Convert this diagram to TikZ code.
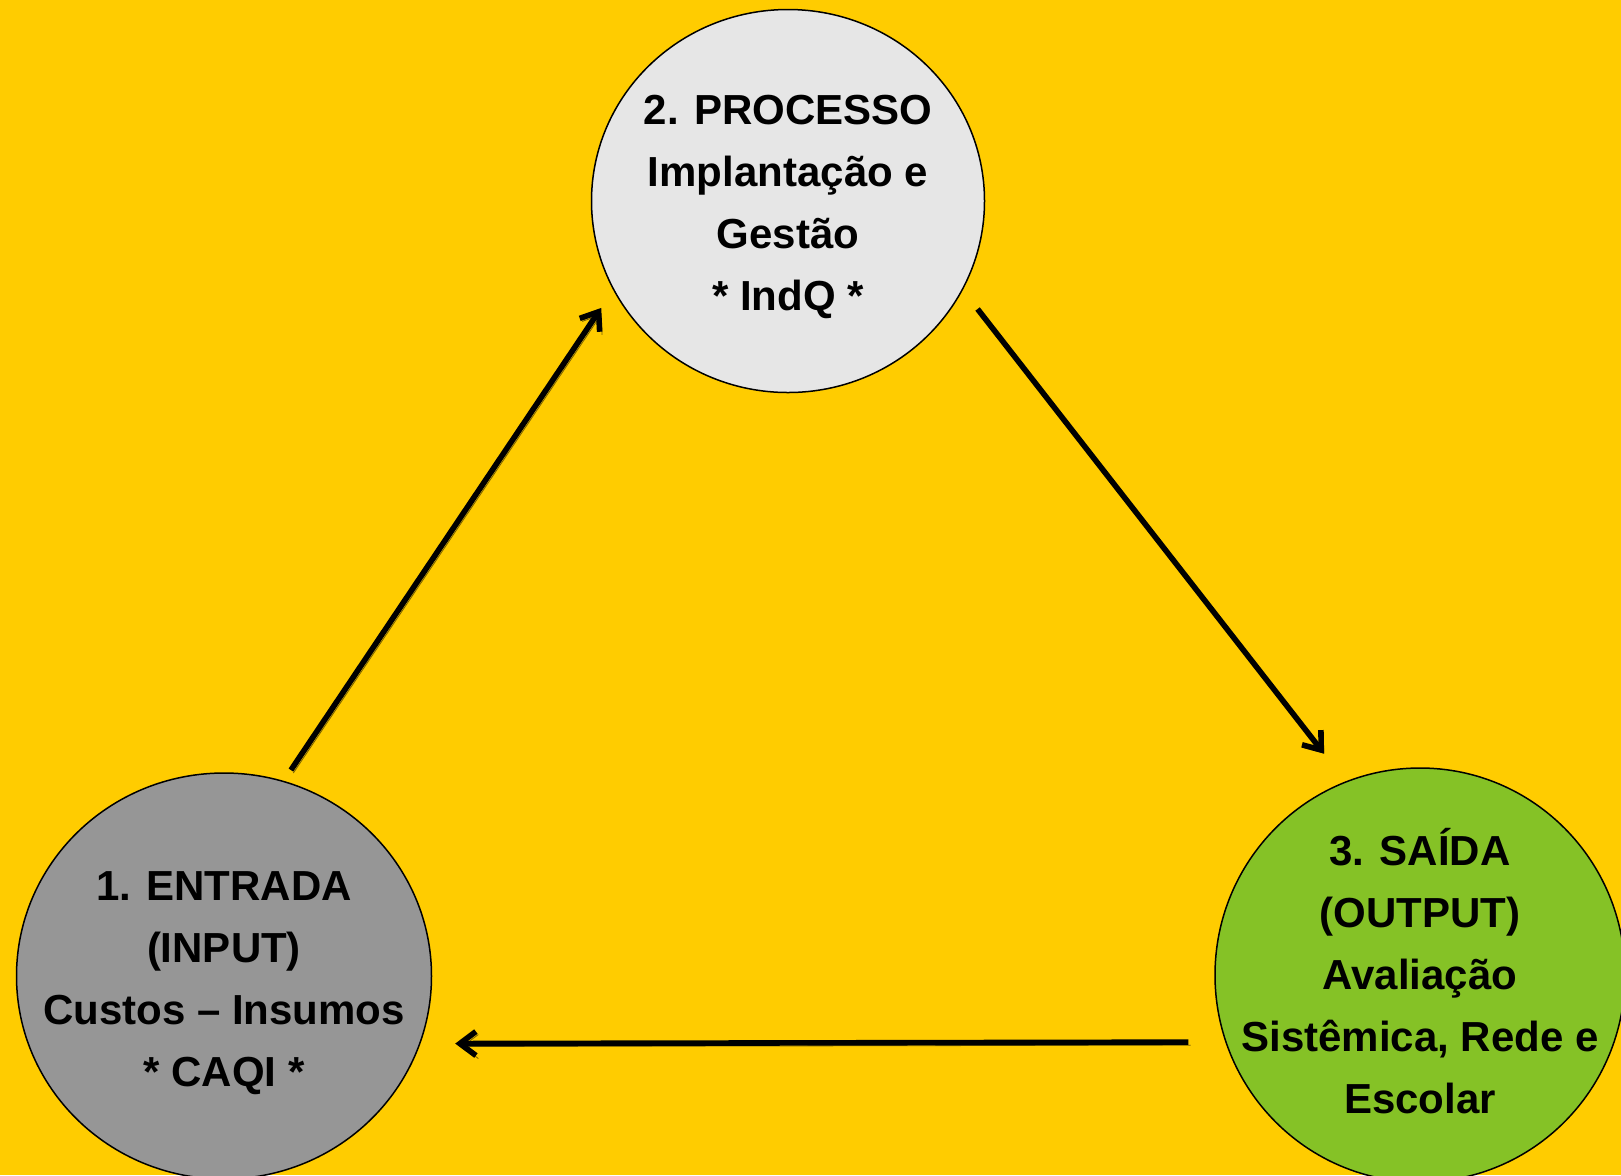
\documentclass[tikz,border=0pt]{standalone}
\usepackage{fontspec}
\setmainfont{Liberation Sans}
\usetikzlibrary{shapes.geometric}
\usetikzlibrary{arrows.meta}
\definecolor{bgyellow}{RGB}{255,204,0}
\definecolor{procgray}{RGB}{230,230,230}
\definecolor{entgray}{RGB}{150,150,150}
\definecolor{saigreen}{RGB}{133,194,38}
\definecolor{shadowcol}{RGB}{120,96,0}

\begin{document}
\begin{tikzpicture}[x=0.5pt,y=-0.5pt,
    stage/.style={ellipse,draw=black,line width=0.75pt,inner sep=0pt},
    stagetext/.style={align=center,font=\fontsize{21}{31}\selectfont\bfseries},
    flow/.style={line width=2.8pt,-{Straight Barb[length=8pt,width=12pt]},
      preaction={draw=shadowcol,transform canvas={shift={(1.2pt,-1.5pt)}}}}]
      \useasboundingbox (0,0) rectangle (1621,1175);
      \fill[bgyellow] (0,0) rectangle (1621,1175); %background

      %STAGES
      \node[stage,fill=procgray,minimum width=196.5pt,minimum height=191.5pt,
        label={[stagetext,yshift=-3pt]center:{2. PROCESSO\\Implantação e\\Gestão\\* IndQ *}}] (processo) at (788,201) {};
      \node[stage,fill=entgray,minimum width=207.5pt,minimum height=203pt,
        label={[stagetext,yshift=-3.5pt]center:{1. ENTRADA\\(INPUT)\\Custos – Insumos\\* CAQI *}}] (entrada) at (224,976) {};
      \node[stage,fill=saigreen,minimum width=205pt,minimum height=207pt,
        label={[stagetext,yshift=2pt]center:{3. SAÍDA\\(OUTPUT)\\Avaliação\\Sistêmica, Rede e\\Escolar}}] (saida) at (1420,975) {};

      %CYCLE ARROWS
      \draw[flow,shorten <=6.5pt,shorten >=10.75pt] (entrada.73.8) -- (processo.207.2);
      \draw[flow,shorten <=12pt,shorten >=17.5pt] (processo.333.7) -- (saida.111.7);
      \draw[flow,shorten <=18.5pt,shorten >=17.4pt] (saida.199.06) -- (entrada.341.4);
\end{tikzpicture}
\end{document}
